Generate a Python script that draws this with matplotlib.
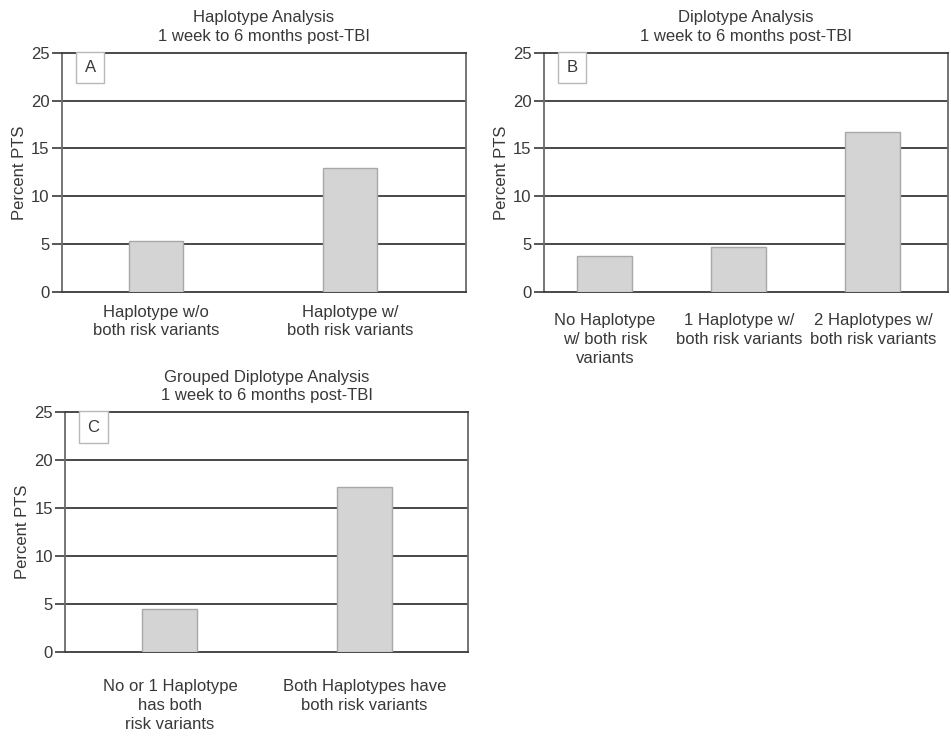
import matplotlib
matplotlib.use('Agg')
import matplotlib.pyplot as plt

plt.rcParams['font.family'] = ['Liberation Sans', 'DejaVu Sans']

# panel A - haplotype analysis
hap_labels = ['Haplotype w/o\nboth risk variants', 'Haplotype w/\nboth risk variants']
hap_values = [5.35, 13.0]

# panel B - diplotype analysis
dip_labels = ['No Haplotype\nw/ both risk\nvariants', '1 Haplotype w/\nboth risk variants',
              '2 Haplotypes w/\nboth risk variants']
dip_values = [3.8, 4.65, 16.75]

# panel C - grouped diplotype analysis
grp_labels = ['No or 1 Haplotype\nhas both\nrisk variants', 'Both Haplotypes have\nboth risk variants']
grp_values = [4.5, 17.15]

subtitle = '1 week to 6 months post-TBI'
yticks = [0, 5, 10, 15, 20, 25]

W, H = 951, 737
FS = 12
fig = plt.figure(figsize=(W / 100, H / 100), dpi=100)


def px_axes(left, right, top, bottom):
    return fig.add_axes([left / W, 1 - bottom / H, (right - left) / W, (bottom - top) / H])


def panel(ax, labels, values, title, letter, width, xlim, xpad):
    x = list(range(len(values)))
    ax.bar(x, values, width=width, color='#d4d4d4', edgecolor='#a8a8a8', linewidth=1.0, zorder=3)
    ax.set_xlim(*xlim)
    ax.set_ylim(0, 25)
    ax.set_yticks(yticks)
    for y in yticks[1:-1]:
        ax.axhline(y, color='#3a3a3a', linewidth=1.3, zorder=1)
    ax.set_xticks(x)
    ax.set_xticklabels(labels, fontsize=FS, color='#383838', linespacing=1.32)
    ax.tick_params(axis='x', length=0, pad=xpad)
    ax.tick_params(axis='y', length=7.5, width=1.2, color='#3a3a3a', pad=1.5,
                   labelsize=FS, labelcolor='#383838')
    for s in ax.spines.values():
        s.set_color('#6a6a6a')
        s.set_linewidth(1.3)
    ax.spines['top'].set_color('#3a3a3a')
    ax.spines['bottom'].set_color('#3a3a3a')
    ax.set_ylabel('Percent PTS', fontsize=FS, color='#383838', labelpad=3)
    ax.set_title(title + '\n' + subtitle, fontsize=FS, color='#383838', pad=8.5, linespacing=1.32)
    ax.text(0.07, 0.938, letter, transform=ax.transAxes, ha='center', va='center',
            fontsize=FS, color='#383838',
            bbox=dict(boxstyle='square,pad=0.5', facecolor='white', edgecolor='#b8b8b8', linewidth=1.0))


axA = px_axes(62, 466, 52.7, 292)
panel(axA, hap_labels, hap_values, 'Haplotype Analysis', 'A', 0.28, (-0.485, 1.598), 9)

axB = px_axes(544, 948, 52.7, 292)
panel(axB, dip_labels, dip_values, 'Diplotype Analysis', 'B', 0.41, (-0.455, 2.56), 15)

axC = px_axes(65.3, 468, 412.3, 651.7)
panel(axC, grp_labels, grp_values, 'Grouped Diplotype Analysis', 'C', 0.283, (-0.538, 1.532), 20)

fig.savefig('out.png', dpi=100)
